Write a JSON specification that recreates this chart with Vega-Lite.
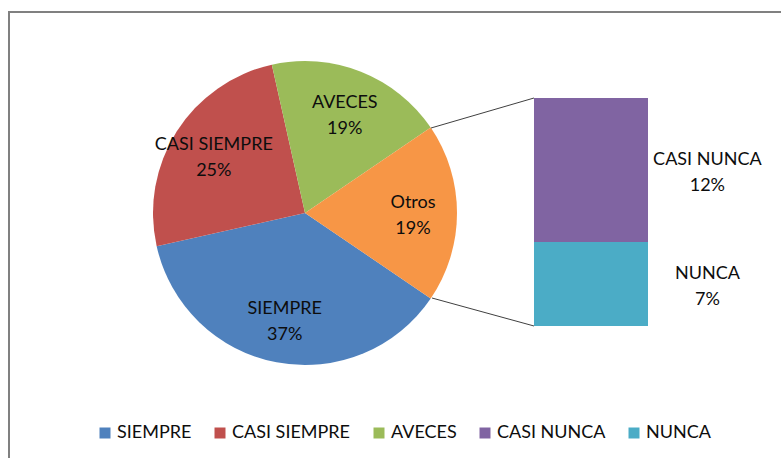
{
  "$schema": "https://vega.github.io/schema/vega-lite/v6.json",
  "width": 800,
  "height": 460,
  "autosize": {"type": "none"},
  "padding": {"left": 9, "top": 12, "right": 0, "bottom": 0},
  "background": "white",
  "config": {
    "view": {"stroke": "#808080", "strokeWidth": 2, "fill": "white"},
    "font": "Lato",
    "axis": {"disable": true}
  },
  "data": {
    "values": [
      {"categoria": "SIEMPRE", "valor": 37, "grupo": "torta", "orden": 2},
      {"categoria": "CASI SIEMPRE", "valor": 25, "grupo": "torta", "orden": 3},
      {"categoria": "AVECES", "valor": 19, "grupo": "torta", "orden": 4},
      {"categoria": "Otros", "valor": 19, "grupo": "torta", "orden": 1},
      {"categoria": "CASI NUNCA", "valor": 12, "grupo": "barra", "orden": 6},
      {"categoria": "NUNCA", "valor": 7, "grupo": "barra", "orden": 5}
    ]
  },
  "transform": [
    {"calculate": "datum.categoria + '\\n' + datum.valor + '%'", "as": "etiqueta"}
  ],
  "layer": [
    {
      "transform": [{"filter": "datum.grupo === 'torta'"}],
      "mark": {"type": "arc", "outerRadius": 152},
      "encoding": {
        "theta": {"field": "valor", "type": "quantitative", "stack": true, "scale": {"range": [0.9739, 7.2571]}},
        "order": {"field": "orden", "type": "quantitative"},
        "color": {
          "field": "categoria",
          "type": "nominal",
          "scale": {
            "domain": ["SIEMPRE", "CASI SIEMPRE", "AVECES", "CASI NUNCA", "NUNCA", "Otros"],
            "range": ["#4F81BD", "#C0504D", "#9BBB59", "#8064A2", "#4BACC6", "#F79646"]
          },
          "legend": {
            "orient": "none",
            "legendX": 87,
            "legendY": 412,
            "direction": "horizontal",
            "columns": 5,
            "values": ["SIEMPRE", "CASI SIEMPRE", "AVECES", "CASI NUNCA", "NUNCA"],
            "title": null,
            "symbolType": "square",
            "symbolSize": 121,
            "symbolStrokeWidth": 0,
            "labelFontSize": 18,
            "labelFont": "Lato",
            "labelColor": "#0d0d0d",
            "labelOffset": 3,
            "columnPadding": 19,
            "padding": 0
          }
        },
        "x": {"datum": 24.667, "type": "quantitative", "scale": {"domain": [0, 66.667], "nice": false, "zero": false}, "axis": null},
        "y": {"datum": 9.4167, "type": "quantitative", "scale": {"domain": [-12.1667, 26.1667], "nice": false, "zero": false}, "axis": null}
      }
    },
    {
      "transform": [{"filter": "datum.grupo === 'torta'"}],
      "mark": {"type": "text", "radius": 108, "fontSize": 18, "font": "Lato", "color": "#0d0d0d", "align": "center", "baseline": "middle", "lineBreak": "\n", "lineHeight": 26, "dy": -10},
      "encoding": {
        "theta": {"field": "valor", "type": "quantitative", "stack": true},
        "order": {"field": "orden", "type": "quantitative"},
        "text": {"field": "etiqueta", "type": "nominal"},
        "x": {"datum": 24.667, "type": "quantitative", "axis": null},
        "y": {"datum": 9.4167, "type": "quantitative", "axis": null}
      }
    },
    {
      "transform": [
        {"filter": "datum.grupo === 'barra'"},
        {"stack": "valor", "groupby": [], "sort": [{"field": "valor", "order": "ascending"}], "as": ["y0", "y1"]}
      ],
      "mark": {"type": "rect"},
      "encoding": {
        "x": {"datum": 43.75, "type": "quantitative", "axis": null},
        "x2": {"datum": 53.25},
        "y": {"field": "y0", "type": "quantitative", "axis": null},
        "y2": {"field": "y1"},
        "color": {"field": "categoria", "type": "nominal"}
      }
    },
    {
      "transform": [
        {"filter": "datum.grupo === 'barra'"},
        {"stack": "valor", "groupby": [], "sort": [{"field": "valor", "order": "ascending"}], "as": ["y0", "y1"]},
        {"calculate": "(datum.y0 + datum.y1) / 2", "as": "ymid"}
      ],
      "mark": {"type": "text", "fontSize": 18, "font": "Lato", "color": "#0d0d0d", "align": "center", "baseline": "middle", "lineBreak": "\n", "lineHeight": 26, "dy": -10},
      "encoding": {
        "x": {"datum": 58.2, "type": "quantitative", "axis": null},
        "y": {"field": "ymid", "type": "quantitative", "axis": null},
        "text": {"field": "etiqueta", "type": "nominal"}
      }
    },
    {
      "transform": [{"filter": "datum.categoria === 'Otros'"}],
      "mark": {"type": "rule", "color": "#404040", "strokeWidth": 1},
      "encoding": {
        "x": {"datum": 35.167, "type": "quantitative", "axis": null},
        "y": {"datum": 16.5, "type": "quantitative", "axis": null},
        "x2": {"datum": 43.75},
        "y2": {"datum": 19}
      }
    },
    {
      "transform": [{"filter": "datum.categoria === 'Otros'"}],
      "mark": {"type": "rule", "color": "#404040", "strokeWidth": 1},
      "encoding": {
        "x": {"datum": 35.25, "type": "quantitative", "axis": null},
        "y": {"datum": 2.333, "type": "quantitative", "axis": null},
        "x2": {"datum": 43.75},
        "y2": {"datum": 0}
      }
    }
  ]
}
